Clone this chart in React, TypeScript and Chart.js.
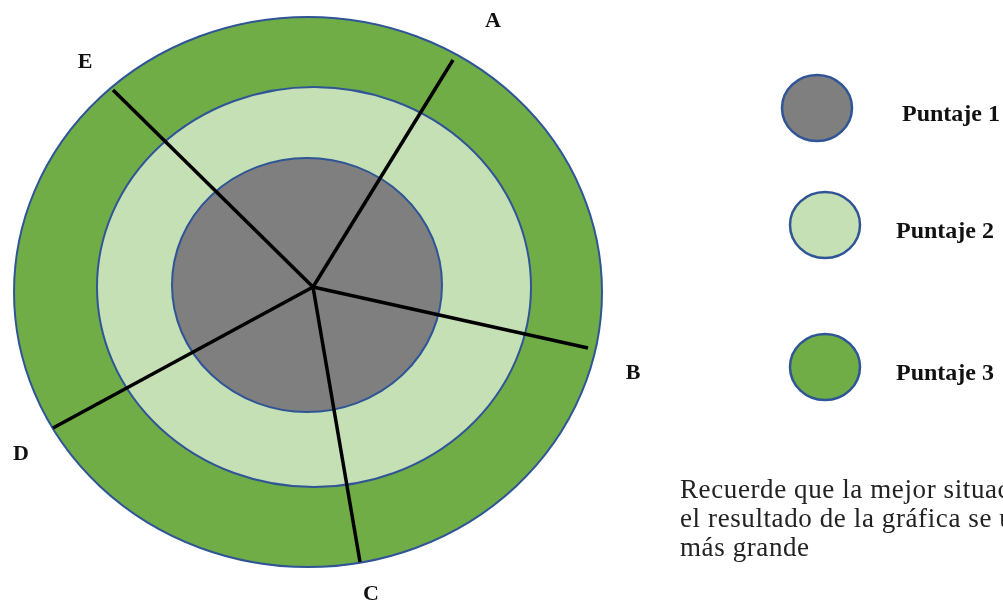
import React, { useEffect, useRef } from "react";
import { Chart, registerables } from "chart.js";

Chart.register(...registerables);

// Rings (outer to inner): score level, centre and radii in page units
const ringNames = ["Puntaje 3", "Puntaje 2", "Puntaje 1"];
const ringColors = ["#70ad47", "#c5e0b4", "#7f7f7f"];
const ringCx = [308, 314, 307];
const ringCy = [292, 287, 285];
const ringRx = [294, 217, 135];
const ringRy = [275, 200, 127];

// Axes (spokes) from the common centre
const spokeLabels = ["A", "B", "C", "D", "E"];
const spokeCenter = { x: 313, y: 287 };
const spokeEndX = [453, 588, 360, 53, 113];
const spokeEndY = [60, 348, 562, 428, 90];
const spokeLabelX = [493, 633, 371, 21, 85];
const spokeLabelY = [21, 373, 594, 454, 62];

// Legend
const legendNames = ["Puntaje 1", "Puntaje 2", "Puntaje 3"];
const legendColors = ["#7f7f7f", "#c5e0b4", "#70ad47"];
const legendCx = [817, 825, 825];
const legendCy = [108, 225, 367];
const legendTextX = [902, 896, 896];

const noteLines = [
  "Recuerde que la mejor situación es cuando",
  "el resultado de la gráfica se ubica en el círculo",
  "más grande",
];

const borderColor = "#2f5597";

const decorPlugin = {
  id: "decor",
  beforeDatasetsDraw(chart: any) {
    const { ctx, scales } = chart;
    const xs = scales.x;
    const ys = scales.y;
    const px = (v: number) => xs.getPixelForValue(v);
    const py = (v: number) => ys.getPixelForValue(v);
    const sx = (v: number) => Math.abs(xs.getPixelForValue(v) - xs.getPixelForValue(0));
    const sy = (v: number) => Math.abs(ys.getPixelForValue(v) - ys.getPixelForValue(0));
    ctx.save();
    ringNames.forEach((_, i) => {
      ctx.beginPath();
      ctx.ellipse(px(ringCx[i]), py(ringCy[i]), sx(ringRx[i]), sy(ringRy[i]), 0, 0, Math.PI * 2);
      ctx.fillStyle = ringColors[i];
      ctx.fill();
      ctx.lineWidth = 2;
      ctx.strokeStyle = borderColor;
      ctx.stroke();
    });
    legendNames.forEach((name, i) => {
      ctx.beginPath();
      ctx.ellipse(px(legendCx[i]), py(legendCy[i]), sx(35), sy(33), 0, 0, Math.PI * 2);
      ctx.fillStyle = legendColors[i];
      ctx.fill();
      ctx.lineWidth = 2.5;
      ctx.strokeStyle = borderColor;
      ctx.stroke();
      ctx.fillStyle = "#111";
      ctx.font = "bold 24px 'Liberation Serif', serif";
      ctx.textBaseline = "alphabetic";
      ctx.textAlign = "left";
      ctx.fillText(name, px(legendTextX[i]), py(legendCy[i] + 13));
    });
    ctx.font = "bold 22px 'Liberation Serif', serif";
    ctx.textAlign = "center";
    ctx.textBaseline = "middle";
    ctx.fillStyle = "#111";
    spokeLabels.forEach((l, i) => {
      ctx.fillText(l, px(spokeLabelX[i]), py(spokeLabelY[i]));
    });
    ctx.font = "27px 'Liberation Serif', serif";
    (ctx as any).letterSpacing = "0.6px";
    ctx.textAlign = "left";
    ctx.textBaseline = "alphabetic";
    ctx.fillStyle = "#222";
    noteLines.forEach((t, i) => {
      ctx.fillText(t, px(680), py(498 + i * 29));
    });
    (ctx as any).letterSpacing = "0px";
    ctx.restore();
  },
};

export default function App() {
  const ref = useRef<HTMLCanvasElement>(null);
  useEffect(() => {
    if (!ref.current) return;
    const datasets = spokeLabels.map((l, i) => ({
      label: l,
      data: [
        { x: spokeCenter.x, y: spokeCenter.y },
        { x: spokeEndX[i], y: spokeEndY[i] },
      ],
      showLine: true,
      borderColor: "#000",
      borderWidth: 3.5,
      pointRadius: 0,
    }));
    const chart = new Chart(ref.current, {
      type: "scatter",
      data: { datasets: datasets as any },
      options: {
        animation: false,
        responsive: false,
        maintainAspectRatio: false,
        layout: { padding: 0 },
        plugins: { legend: { display: false }, tooltip: { enabled: false } },
        scales: {
          x: { type: "linear", min: 0, max: 1003, display: false },
          y: { type: "linear", min: 0, max: 602, reverse: true, display: false },
        },
      },
      plugins: [decorPlugin],
    });
    return () => chart.destroy();
  }, []);
  return (
    <div style={{ position: "absolute", left: 0, top: 0, width: 1003, height: 602, background: "#fff" }}>
      <canvas ref={ref} width={1003} height={602} style={{ display: "block" }} />
    </div>
  );
}
